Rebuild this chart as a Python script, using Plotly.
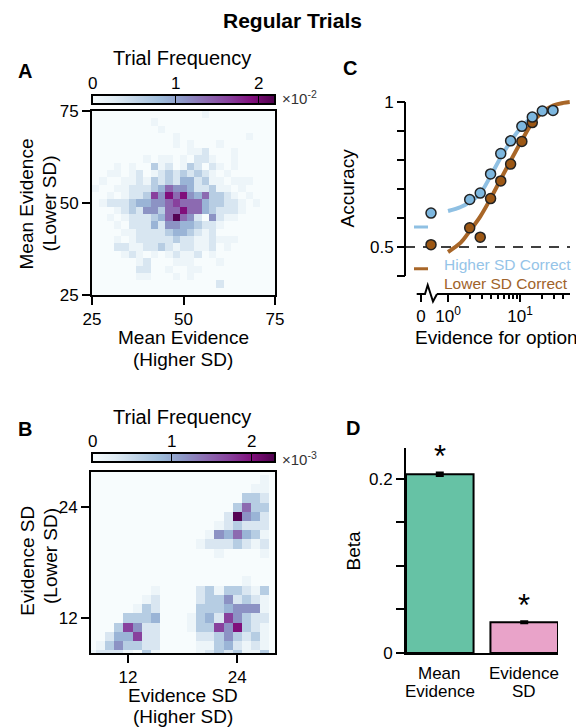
import plotly.graph_objects as go

# The page body has an 8px margin, so the figure is sized to the window minus it
# and every position below is given in window pixels, then converted.
WIN_W, WIN_H, BODY = 584, 727, 8
W, H = WIN_W - BODY, WIN_H - BODY
FONT = "Liberation Sans, Arial, sans-serif"


def px(x):
    return (x - BODY) / W


def py(y):
    return 1 - (y - BODY) / H


# ---------------- Panel A: trial frequency of mean evidence (x10^-2) ----------------
A_BINS = list(range(26, 75, 2))  # bin centres, both axes
# shade codes, rows from top (y=74) to bottom (y=26)
A_LEVELS = [
    "0000000000000001000000000",
    "0000000010000000000000000",
    "0000000001000000000000000",
    "0000000000010000000001000",
    "0000000000010100010000000",
    "0000000000000112000100000",
    "0000000101101022100100000",
    "0001010031201320210100000",
    "0011012012323232101000000",
    "0100112132324423110111000",
    "1001122234655422311010000",
    "0010122375868546332101000",
    "0122234455676664332210100",
    "0001232553668664322210000",
    "0010122234696520521100000",
    "0001022242554432210000000",
    "0000112222344321200000000",
    "0001012222232211211100000",
    "0002211223212211201000000",
    "0000121010121120100000000",
    "0000001200011100010000000",
    "0000002200100110000000000",
    "0000001100010100000000000",
    "0000000000000000020000000",
    "0000000000000000000000000",
]
# frequency (x10^-2) of each shade code, read against the colour bar
A_SHADE_FREQ = [0, 0.12, 0.34, 0.62, 0.88, 1.12, 1.38, 1.65, 1.93, 2.15]
A_ZMAX = 2.2

# ---------------- Panel B: trial frequency of evidence SD (x10^-3) ----------------
B_BINS = list(range(8, 29))  # bin centres, both axes
# rows from top (y=28) to bottom (y=8), columns x=8..28
B_LEVELS = [
    "000000000000000000000",
    "000000000000000000010",
    "000000000000000000110",
    "000000000000000003320",
    "000000000000000036330",
    "000000000000000295420",
    "000000000000001232220",
    "000000000000015464310",
    "000000000000122232120",
    "000000000000001000010",
    "000000000000000000000",
    "000000000000000000000",
    "000000000000000001000",
    "000000010000231332130",
    "000000120000233523210",
    "000001320000333455510",
    "000033340001342753220",
    "000375220001337583210",
    "002447220000223532310",
    "013533220000113421210",
    "122210310000123231130",
]
# frequency (x10^-3) of each shade code, read against the colour bar
B_SHADE_FREQ = [0, 0.12, 0.35, 0.65, 0.92, 1.17, 1.44, 1.72, 2.01, 2.24]
B_ZMAX = 2.29

# ---------------- Panel C: accuracy vs evidence ----------------
EVID_BINS = [2.0, 2.8, 3.9, 5.4, 7.4, 10.6, 14.8, 20.4, 28.7]
HIGH_ACC = [0.664, 0.686, 0.752, 0.822, 0.866, 0.916, 0.948, 0.969, 0.971]
HIGH_ERR = [0.008, 0.008, 0.007, 0.006, 0.006, 0.005, 0.005, 0.004, 0.004]
LOW_ACC = [0.566, 0.534, 0.667, 0.728, 0.786, 0.864, 0.929]
LOW_ERR = [0.015, 0.015, 0.010, 0.008, 0.007, 0.006, 0.005]
HIGH_ZERO_ACC = 0.617
LOW_ZERO_ACC = 0.508
HIGH_ZERO_MODEL = 0.569
LOW_ZERO_MODEL = 0.425

HIGH_FIT_X = [1.0, 1.5, 2.0, 2.8, 3.8, 5.3, 7.5, 10.6, 14.5, 20.0, 28.7]
HIGH_FIT_Y = [0.624, 0.638, 0.655, 0.685, 0.740, 0.805, 0.866, 0.915, 0.946, 0.962, 0.969]
LOW_FIT_X = [1.0, 1.5, 2.0, 2.8, 3.8, 5.3, 7.5, 10.6, 14.5, 20.0, 28.7, 40.0, 49.0]
LOW_FIT_Y = [0.483, 0.515, 0.555, 0.605, 0.662, 0.730, 0.800, 0.868, 0.925, 0.963, 0.988, 0.997, 1.0]

# ---------------- Panel D: regression betas ----------------
BETA_LABELS = ["Mean Evidence", "Evidence SD"]
BETA_TICKTEXT = [["Mean", "Evidence"], ["Evidence", "SD"]]
BETA_VALUES = [0.2054, 0.0353]
BETA_ERR = [0.0018, 0.0009]

BLUE_LINE = "#8fc0e3"
BLUE_MARK = "#7db7df"
BROWN_LINE = "#a86628"
BROWN_MARK = "#9c5714"
BAR_COLORS = ["#66c2a5", "#e9a3c9"]

fig = go.Figure()


def to_grid(rows, table):
    return [[table[int(c)] for c in r] for r in rows[::-1]]


def cbar(top_px):
    return dict(
        orientation="h", x=px(92), xanchor="left", y=py(top_px), yanchor="top",
        len=183, lenmode="pixels", thickness=9, xpad=0, ypad=0,
        outlinewidth=2, outlinecolor="black",
        tickmode="array", tickvals=[1, 2], ticks="inside", ticklen=9,
        tickcolor="black", tickwidth=1, showticklabels=False,
    )


fig.add_trace(go.Heatmap(
    x=A_BINS, y=A_BINS, z=to_grid(A_LEVELS, A_SHADE_FREQ), colorscale="BuPu",
    zmin=0, zmax=A_ZMAX, xaxis="x", yaxis="y", colorbar=cbar(95), hoverinfo="skip"))
fig.add_trace(go.Heatmap(
    x=B_BINS, y=B_BINS, z=to_grid(B_LEVELS, B_SHADE_FREQ), colorscale="BuPu",
    zmin=0, zmax=B_ZMAX, xaxis="x2", yaxis="y2", colorbar=cbar(453), hoverinfo="skip"))

# Panel C curves and points
fig.add_trace(go.Scatter(x=HIGH_FIT_X, y=HIGH_FIT_Y, mode="lines", xaxis="x4", yaxis="y3",
                         line=dict(color=BLUE_LINE, width=4, shape="spline")))
fig.add_trace(go.Scatter(x=LOW_FIT_X, y=LOW_FIT_Y, mode="lines", xaxis="x4", yaxis="y3",
                         line=dict(color=BROWN_LINE, width=4, shape="spline")))
fig.add_trace(go.Scatter(
    x=EVID_BINS[:len(LOW_ACC)], y=LOW_ACC, mode="markers", xaxis="x4", yaxis="y3",
    error_y=dict(type="data", array=LOW_ERR, color=BROWN_LINE, thickness=2, width=0),
    marker=dict(size=10, color=BROWN_MARK, line=dict(color="#222", width=1.5)), cliponaxis=False))
fig.add_trace(go.Scatter(
    x=EVID_BINS, y=HIGH_ACC, mode="markers", xaxis="x4", yaxis="y3",
    error_y=dict(type="data", array=HIGH_ERR, color=BLUE_LINE, thickness=2, width=0),
    marker=dict(size=10, color=BLUE_MARK, line=dict(color="#222", width=1.5)), cliponaxis=False))
# zero-evidence: model prediction dashes (at the "0" tick) and data points
fig.add_trace(go.Scatter(
    x=[-0.5, -0.5], y=[HIGH_ZERO_MODEL, LOW_ZERO_MODEL], mode="markers", xaxis="x3", yaxis="y3",
    marker=dict(symbol="line-ew", size=10, line=dict(width=3, color=[BLUE_LINE, BROWN_LINE])),
    cliponaxis=False))
fig.add_trace(go.Scatter(
    x=[0, 0], y=[LOW_ZERO_ACC, HIGH_ZERO_ACC], mode="markers", xaxis="x3", yaxis="y3",
    marker=dict(size=10, color=[BROWN_MARK, BLUE_MARK], line=dict(color="#222", width=1.5)),
    cliponaxis=False))

# Panel D bars
fig.add_trace(go.Bar(
    x=BETA_LABELS, y=BETA_VALUES, width=0.8, xaxis="x5", yaxis="y5",
    marker=dict(color=BAR_COLORS, line=dict(color="black", width=2)),
    error_y=dict(type="data", array=BETA_ERR, color="black", thickness=2.5, width=4)))

TICKFONT = dict(family=FONT, size=17, color="black")
common = dict(showgrid=False, zeroline=False, tickfont=TICKFONT, ticks="outside",
              tickcolor="black", tickwidth=1.5, linecolor="black", linewidth=2)

fig.update_layout(
    width=W, height=H, margin=dict(l=0, r=0, t=0, b=0, autoexpand=False),
    paper_bgcolor="white", plot_bgcolor="rgba(0,0,0,0)", showlegend=False,
    font=dict(family=FONT, color="black"),
    xaxis=dict(domain=[px(92), px(275)], range=[25, 75], tickvals=[25, 50, 75], ticklen=8,
               showline=True, mirror=True, anchor="y", **common),
    yaxis=dict(domain=[py(295), py(111)], range=[25, 75], tickvals=[25, 50, 75], ticklen=8,
               showline=True, mirror=True, anchor="x", **common),
    xaxis2=dict(domain=[px(91), px(275)], range=[7.93, 28.15], tickvals=[12, 24], ticklen=8,
                showline=True, mirror=True, anchor="y2", **common),
    yaxis2=dict(domain=[py(653), py(472)], range=[8.17, 27.8], tickvals=[12, 24], ticklen=8,
                showline=True, mirror=True, anchor="x2", **common),
    yaxis3=dict(domain=[py(277), py(96.2)], range=[0.3966, 1.02],
                tickvals=[0.4, 0.5, 0.6, 0.7, 0.8, 0.9, 1.0],
                ticktext=["", "0.5", "", "", "", "", "1"], ticklen=8,
                showline=False, anchor="free", position=px(405), **common),
    xaxis3=dict(domain=[px(411), px(451)], range=[-1, 1], tickvals=[-0.5], ticktext=["0"],
                ticklen=7, showline=False, anchor="free", position=py(294), **common),
    xaxis4=dict(domain=[px(437), px(570)], type="log", range=[-0.153, 1.694],
                tickvals=[1, 10], ticktext=["10<sup>0</sup>", "10<sup>1</sup>"], ticklen=7,
                minor=dict(tickvals=[2, 3, 4, 5, 6, 7, 8, 9, 20, 30, 40], ticks="outside",
                           ticklen=4, tickwidth=1.5, tickcolor="black"),
                showline=True, anchor="free", position=py(294), **common),
    xaxis5=dict(domain=[px(406), px(558)], range=[-0.4, 1.4], type="category",
                showticklabels=False, showline=True, anchor="y5",
                **{k: v for k, v in common.items() if k != "ticks"}, ticks=""),
    yaxis5=dict(domain=[py(653), py(448)], range=[0, 0.2356],
                tickvals=[0, 0.05, 0.1, 0.15, 0.2], ticktext=["0", "", "", "", "0.2"], ticklen=8,
                showline=True, anchor="x5", **common),
)

shapes = []
# y axis line of panel C
shapes.append(dict(type="line", xref="paper", yref="y3", x0=px(405), x1=px(405), y0=0.4, y1=1.0,
                   line=dict(color="black", width=2)))
# chance line
shapes.append(dict(type="line", xref="paper", yref="y3", x0=px(405), x1=px(570), y0=0.5, y1=0.5,
                   line=dict(color="black", width=1.5, dash="10px,8px"), layer="below"))
# broken x axis: "0" segment and zigzag
pts = [(416.7, 294), (425, 294), (427.7, 285), (433, 301.5), (437, 294)]
path = "M " + " L ".join(f"{px(x):.5f},{py(y):.5f}" for x, y in pts)
shapes.append(dict(type="path", xref="paper", yref="paper", path=path,
                   line=dict(color="black", width=2)))
fig.update_layout(shapes=shapes)

ann = []


def text(t, x, y, size=19, bold=False, xanchor="center", color="black", angle=0, yanchor="middle"):
    ann.append(dict(text=f"<b>{t}</b>" if bold else t, x=px(x), y=py(y), xref="paper", yref="paper",
                    showarrow=False, xanchor=xanchor, yanchor=yanchor, textangle=angle,
                    font=dict(family=FONT, size=size, color=color)))


text("Regular Trials", 292, 20, size=21, bold=True)
for letter, (lx, ly) in {"A": (25, 71.5), "B": (25, 428.5), "C": (350, 67.5), "D": (353, 427.5)}.items():
    text(letter, lx, ly, size=20, bold=True)

# colorbar texts
for (title_y, lab_y, mult_y, zmax, exp) in [(58.3, 83.3, 98, A_ZMAX, "-2"), (416.7, 441.7, 458, B_ZMAX, "-3")]:
    text("Trial Frequency", 182, title_y, size=20)
    for v in [0, 1, 2]:
        text(str(v), 92 + v / zmax * 183, lab_y, size=17)
    text(f"\u00d710<sup>{exp}</sup>", 280, mult_y, size=15, xanchor="left", color="#333")

# panel A titles
text("Mean Evidence", 183, 338)
text("(Higher SD)", 183, 360)
text("Mean Evidence", 25.5, 204, angle=-90)
text("(Lower SD)", 48.5, 204, angle=-90)
# panel B titles
text("Evidence SD", 183, 695)
text("(Higher SD)", 183, 716)
text("Evidence SD", 26.7, 561, angle=-90)
text("(Lower SD)", 50, 556, angle=-90)
# panel C
text("Accuracy", 347.5, 188, angle=-90)
text("Evidence for option", 496, 338)
text("Higher SD Correct", 441.7, 264.3, size=15.5, xanchor="left", color="#95c4e8")
text("Lower SD Correct", 441.7, 283.3, size=15.5, xanchor="left", color="#a0632a")
# panel D
text("Beta", 352.5, 551, angle=-90)
for cat, lines in zip(BETA_LABELS, BETA_TICKTEXT):
    for i, ln in enumerate(lines):
        ann.append(dict(text=ln, x=cat, y=py(673.3 + 18.4 * i), xref="x5", yref="paper",
                        showarrow=False, xanchor="center", yanchor="middle",
                        font=dict(family=FONT, size=17, color="black")))

for cat, v, e in zip(BETA_LABELS, BETA_VALUES, BETA_ERR):
    ann.append(dict(text="*", x=cat, y=v + e, xref="x5", yref="y5", showarrow=False,
                    xanchor="center", yanchor="bottom", yshift=-3,
                    font=dict(family=FONT, size=31, color="black")))

fig.update_layout(annotations=ann)
fig.write_html("out.html")
